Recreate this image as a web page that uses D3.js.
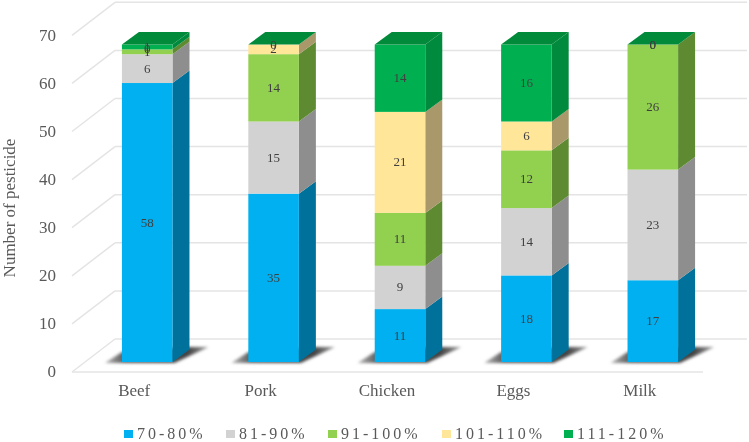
<!DOCTYPE html>
<html>
<head>
<meta charset="utf-8">
<script src="https://cdn.jsdelivr.net/npm/d3@7"></script>
<style>
  html, body { margin: 0; padding: 0; background: #fff; }
  svg { display: block; filter: blur(0.35px); }
  text { font-family: "Liberation Serif", serif; }
</style>
</head>
<body>
<div id="chart"></div>
<script>
const categories = ['Beef', 'Pork', 'Chicken', 'Eggs', 'Milk'];
const seriesNames = ['70-80%', '81-90%', '91-100%', '101-110%', '111-120%'];
const s70 = [58, 35, 11, 18, 17];
const s81 = [6, 15, 9, 14, 23];
const s91 = [1, 14, 11, 12, 26];
const s101 = [0, 2, 21, 6, 0];
const s111 = [1, 0, 14, 16, 0];
const yTicks = [0, 10, 20, 30, 40, 50, 60, 70];

const frontColors = ['#00b0f0', '#d2d2d2', '#92d050', '#ffe699', '#00b050'];
const sideColors = ['#00719b', '#8e8e8e', '#5e8a32', '#a8986a', '#008a3e'];
const topColor = '#008a3a';
const legendX = [124, 226, 328, 442, 564];

const width = 749, height = 442;
const depthX = 17, depthY = 12.5;

const svg = d3.select('#chart').append('svg')
  .attr('width', width)
  .attr('height', height);

const defs = svg.append('defs');
const blur = defs.append('filter').attr('id', 'soft')
  .attr('x', '-20%').attr('y', '-40%').attr('width', '140%').attr('height', '180%');
blur.append('feGaussianBlur').attr('stdDeviation', 1.8);
const shade = defs.append('linearGradient').attr('id', 'shade');
shade.append('stop').attr('offset', '0').attr('stop-color', '#b5b5b5');
shade.append('stop').attr('offset', '0.2').attr('stop-color', '#555');
shade.append('stop').attr('offset', '0.8').attr('stop-color', '#444');
shade.append('stop').attr('offset', '1').attr('stop-color', '#9a9a9a');

const x = d3.scaleBand().domain(categories).range([84, 716])
  .paddingInner(0.6).paddingOuter(0.3);
const y = d3.scaleLinear().domain([0, 70]).range([362, 25.3]);

const rows = categories.map((c, i) => ({
  category: c,
  values: [s70[i], s81[i], s91[i], s101[i], s111[i]]
}));
const stack = d3.stack().keys([0, 1, 2, 3, 4]).value((d, k) => d.values[k]);
const layers = stack(rows);

// walls: gridlines on the back wall, diagonal on the left wall, floor
const wall = svg.append('g').attr('fill', 'none').attr('stroke', '#e4e4e4').attr('stroke-width', 1.5);
yTicks.forEach(t => {
  const fy = y(t) + 10, by = y(t) - 23;
  wall.append('line').attr('x1', 115).attr('y1', by).attr('x2', 747).attr('y2', by);
  wall.append('line').attr('x1', 72).attr('y1', fy).attr('x2', 115).attr('y2', by);
});
wall.append('line').attr('x1', 72).attr('y1', y(0) + 10).attr('x2', 703).attr('y2', y(0) + 10);

// y axis labels
const yAxis = svg.append('g')
  .attr('transform', 'translate(59,9.5)')
  .call(d3.axisLeft(y).tickValues(yTicks).tickSize(0).tickPadding(3));
yAxis.select('.domain').remove();
yAxis.selectAll('text')
  .style('font-family', '"Liberation Serif", serif')
  .style('font-size', '17px')
  .attr('fill', '#595959');

// x axis labels sit left of the bars, as the 3D projection puts them on the front edge
const xAxis = svg.append('g')
  .attr('transform', 'translate(-13,381)')
  .call(d3.axisBottom(x).tickSize(0).tickPadding(3));
xAxis.select('.domain').remove();
xAxis.selectAll('text')
  .style('font-family', '"Liberation Serif", serif')
  .style('font-size', '17px')
  .attr('fill', '#595959');

// floor shadows
const shadows = svg.append('g');
categories.forEach(c => {
  const x0 = x(c), x1 = x0 + x.bandwidth(), base = y(0);
  shadows.append('polygon')
    .attr('points', [[x0 - 17, base + 1], [x1 + 2, base + 1], [x1 + 36, base - 15], [x1 + 14, base - 15], [x0, base - 10]].join(' '))
    .attr('fill', 'url(#shade)')
    .attr('filter', 'url(#soft)');
});

// bars, one category at a time so that later bars sit on top
const bars = svg.append('g');
categories.forEach((c, i) => {
  const x0 = x(c), x1 = x0 + x.bandwidth();
  const g = bars.append('g');
  layers.forEach((layer, k) => {
    const [v0, v1] = layer[i];
    if (v1 === v0) return;
    const yTop = y(v1), yBot = y(v0);
    g.append('polygon')
      .attr('points', [[x1, yBot], [x1 + depthX, yBot - depthY], [x1 + depthX, yTop - depthY], [x1, yTop]].join(' '))
      .attr('fill', sideColors[k]);
    g.append('rect')
      .attr('x', x0).attr('y', yTop)
      .attr('width', x.bandwidth()).attr('height', yBot - yTop)
      .attr('fill', frontColors[k]);
  });
  const total = d3.sum(rows[i].values);
  const yTop = y(total);
  g.append('polygon')
    .attr('points', [[x0, yTop], [x1, yTop], [x1 + depthX, yTop - depthY], [x0 + depthX, yTop - depthY]].join(' '))
    .attr('fill', topColor);
});

// data labels, zero values included
const labels = svg.append('g')
  .attr('text-anchor', 'middle')
  .attr('font-size', 13)
  .attr('fill', '#404040');
categories.forEach((c, i) => {
  layers.forEach(layer => {
    const [v0, v1] = layer[i];
    labels.append('text')
      .attr('x', x(c) + x.bandwidth() / 2)
      .attr('y', y((v0 + v1) / 2) + 4)
      .text(v1 - v0);
  });
});

// y axis title
svg.append('text')
  .attr('transform', 'translate(15,208) rotate(-90)')
  .attr('text-anchor', 'middle')
  .attr('font-size', 17)
  .attr('fill', '#595959')
  .text('Number of pesticide');

// legend
const legend = svg.append('g');
seriesNames.forEach((name, k) => {
  legend.append('rect')
    .attr('x', legendX[k]).attr('y', 430)
    .attr('width', 9).attr('height', 8)
    .attr('fill', frontColors[k]);
  legend.append('text')
    .attr('x', legendX[k] + 13).attr('y', 438.5)
    .attr('font-size', 16)
    .attr('letter-spacing', 3)
    .attr('fill', '#595959')
    .text(name);
});
</script>
</body>
</html>
